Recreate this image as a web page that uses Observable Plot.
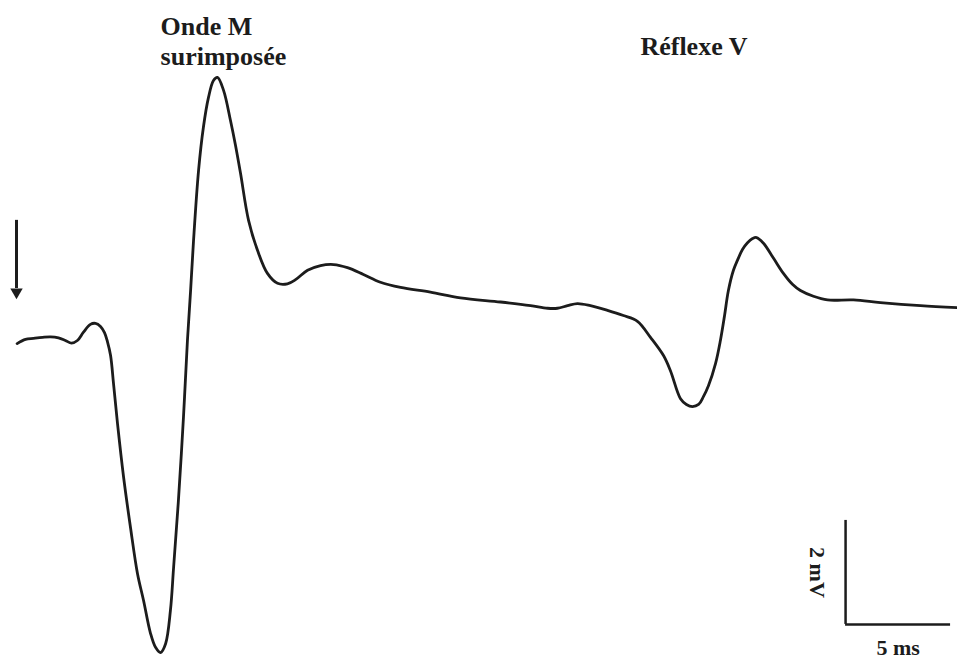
<!DOCTYPE html>
<html>
<head>
<meta charset="utf-8">
<script src="https://cdn.jsdelivr.net/npm/d3@7"></script>
<script src="https://cdn.jsdelivr.net/npm/@observablehq/plot@0.6"></script>
<style>
  html, body { margin: 0; padding: 0; background: #fff; }
</style>
</head>
<body>
<div id="chart"></div>
<script>
// Time (ms) of each sample of the EMG trace
const timeMs = [0.03, 0.43, 0.81, 1.24, 1.62, 2.00, 2.33, 2.62, 2.90, 3.19, 3.52, 3.76, 4.00, 4.19, 4.33, 4.48, 4.62, 4.81, 5.10, 5.43,
  5.76, 6.05, 6.38, 6.62, 6.86, 7.10, 7.33, 7.48, 7.71, 7.95, 8.14, 8.29, 8.43, 8.67, 8.90, 9.14, 9.38, 9.57, 9.86, 10.19,
  10.43, 10.67, 11.05, 11.48, 11.95, 12.43, 12.90, 13.29, 13.86, 14.48, 15.10, 15.76, 16.52, 17.33, 18.29, 19.71, 21.14, 23.05, 24.48,
  25.29, 25.76, 26.24, 26.71, 27.33, 28.14, 28.90, 29.57, 30.19,
  30.81, 31.14, 31.62, 31.90, 32.19, 32.48, 32.71, 32.95, 33.29, 33.52, 33.71, 33.90,
  34.14, 34.33, 34.57, 34.81, 35.05, 35.24, 35.57, 36.05, 36.52, 36.95, 37.33, 37.95, 38.62, 39.86, 41.14, 43.05, 44.81];
// Voltage (mV) of each sample
const voltMv = [-0.06, 0.02, 0.04, 0.06, 0.07, 0.05, 0.00, -0.05, 0.00, 0.16, 0.31, 0.33, 0.27, 0.15, -0.02, -0.29, -0.83, -1.60, -2.63, -3.60,
  -4.48, -5.00, -5.63, -5.90, -6.00, -5.83, -5.19, -4.37, -3.08, -1.48, 0.00, 0.96, 1.92, 3.27, 4.10, 4.67, 5.00, 5.06, 4.81, 4.23,
  3.75, 3.21, 2.31, 1.73, 1.29, 1.10, 1.09, 1.17, 1.35, 1.44, 1.46, 1.40, 1.27, 1.12, 1.02, 0.93, 0.82, 0.74, 0.67,
  0.62, 0.62, 0.67, 0.71, 0.67, 0.58, 0.48, 0.37, 0.06,
  -0.29, -0.58, -1.12, -1.23, -1.27, -1.23, -1.08, -0.87, -0.44, 0.00, 0.46, 0.96,
  1.35, 1.54, 1.75, 1.88, 1.96, 1.98, 1.87, 1.58, 1.29, 1.08, 0.96, 0.85, 0.78, 0.78, 0.73, 0.67, 0.63];

// Annotations
const labelOndeM = "Onde M\nsurimposée";
const labelReflexe = "Réflexe V";
const scaleBarMs = 5;      // horizontal scale bar length
const scaleBarMv = 2;      // vertical scale bar length
const scaleBarLabelX = "5 ms";
const scaleBarLabelY = "2 mV";
const scaleOrigin = {t: 39.48, v: -5.46};  // corner of the scale bar
const stimArrow = {t: 0, vTop: 2.31, vBottom: 1.0, vHead: 0.93}; // stimulus arrow

const trace = timeMs.map((t, i) => ({t, v: voltMv[i]}));

const font = "'Liberation Serif', 'Times New Roman', serif";
const ink = "#1c1c1c";

const chart = Plot.plot({
  width: 957,
  height: 662,
  margin: 0,
  x: {domain: [-0.762, 44.81], axis: null},
  y: {domain: [-6.192, 6.538], axis: null},
  marks: [
    Plot.line(trace, {x: "t", y: "v", stroke: ink, strokeWidth: 2.8, curve: "catmull-rom"}),
    // stimulus arrow
    Plot.ruleX([stimArrow], {x: "t", y1: "vTop", y2: "vBottom", stroke: ink, strokeWidth: 3}),
    Plot.dot([stimArrow], {x: "t", y: "vHead", symbol: "triangle", r: 4.6, rotate: 180, fill: ink, stroke: "none"}),
    // scale bar
    Plot.ruleX([scaleOrigin], {x: "t", y1: "v", y2: d => d.v + scaleBarMv, stroke: ink, strokeWidth: 2.5}),
    Plot.ruleY([scaleOrigin], {y: "v", x1: "t", x2: d => d.t + scaleBarMs, stroke: ink, strokeWidth: 2.5}),
    Plot.text([scaleBarLabelX], {x: scaleOrigin.t + scaleBarMs / 2, y: -5.92, text: d => d, fontSize: 22, fontWeight: "bold", fontFamily: font, fill: ink, textAnchor: "middle", lineAnchor: "middle"}),
    Plot.text([scaleBarLabelY], {x: 38.1, y: scaleOrigin.v + scaleBarMv / 2, text: d => d, rotate: 90, fontSize: 22, fontWeight: "bold", fontFamily: font, fill: ink, textAnchor: "middle", lineAnchor: "middle"}),
    // wave labels
    Plot.text([labelOndeM], {x: 6.86, y: 6.28, text: d => d, fontSize: 26, fontWeight: "bold", fontFamily: font, fill: ink, textAnchor: "start", lineAnchor: "top", lineHeight: 1.15}),
    Plot.text([labelReflexe], {x: 29.71, y: 5.84, text: d => d, fontSize: 26, fontWeight: "bold", fontFamily: font, fill: ink, textAnchor: "start", lineAnchor: "top"})
  ]
});
document.getElementById("chart").appendChild(chart);
</script>
</body>
</html>
